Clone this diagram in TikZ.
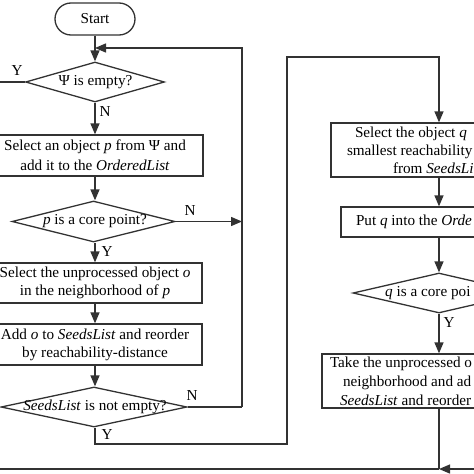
\documentclass[tikz,border=0pt]{standalone}
\usepackage{fontspec}
\setmainfont{Liberation Serif}
\usetikzlibrary{arrows.meta,shapes.geometric}
\definecolor{lc}{RGB}{50,50,50}
\newcommand{\myfs}[1]{\fontsize{15.2}{#1}\selectfont}
\begin{document}
\begin{tikzpicture}[x=1pt,y=-1pt,
  line/.style={draw=lc, line width=1.3pt},
  arr/.style={line, -{Triangle[length=11pt,width=9pt]}},
  box/.style={draw=lc, line width=1.3pt, rectangle, inner sep=0pt, align=center, font=\myfs{18}},
  dia/.style={draw=lc, line width=1.3pt, diamond, inner sep=0pt},
  txt/.style={inner sep=0pt, font=\myfs{18}},
  lbl/.style={inner sep=0pt, font=\myfs{18}}]
\useasboundingbox (0,0) rectangle (474,474);
\clip (0,0) rectangle (474,474);
% left column
\node[box, rounded corners=16pt, minimum width=80pt, minimum height=32pt] (start) at (95,19) {Start};
\node[dia, minimum width=139pt, minimum height=40pt] (d1) at (95,82) {};
\node[txt] (d1t) at (95.5,82) {Ψ is empty?};
\node[box, font=\myfs{20}, minimum width=216pt, minimum height=41pt] (b1) at (95,155.5)
  {Select an object \textit{p} from Ψ and\\add it to the \textit{OrderedList}};
\node[dia, minimum width=163pt, minimum height=41pt] (d2) at (93.5,221.5) {};
\node[txt] (d2t) at (95,221.5) {\textit{p} is a core point?};
\node[box, minimum width=214pt, minimum height=40pt] (b2) at (95,283)
  {Select the unprocessed object \textit{o}\\in the neighborhood of \textit{p}};
\node[box, minimum width=214pt, minimum height=41pt] (b3) at (95,344.5)
  {Add \textit{o} to \textit{SeedsList} and reorder\\by reachability-distance};
\node[dia, minimum width=186pt, minimum height=40pt] (d3) at (94,407) {};
\node[txt] (d3t) at (95,407) {\textit{SeedsList} is not empty?};
% right column
\node[box, minimum width=216pt, minimum height=54pt] (sq) at (439,150)
  {\makebox[168pt][l]{Select the object \textit{q}}\\\makebox[184pt][l]{smallest reachability}\\\makebox[92pt][l]{from \textit{SeedsLi}}};
\node[box, minimum width=196pt, minimum height=30pt] (pq) at (439,222)
  {\makebox[166pt][l]{Put \textit{q} into the \textit{Orde}}};
\node[dia, minimum width=172pt, minimum height=40pt] (d4) at (439,293) {};
\node[txt, anchor=west] (d4t) at (385,293) {\textit{q} is a core poi};
\node[box, font=\myfs{19}, minimum width=234pt, minimum height=54pt] (tk) at (439,381)
  {\makebox[218pt][l]{Take the unprocessed o}\\\makebox[192pt][l]{neighborhood and ad}\\\makebox[198pt][l]{\textit{SeedsList} and reorder}};
% junctions
\coordinate (jN) at (242,407);
\coordinate (jTop) at (95,48);
\coordinate (yL) at (-5,82);
\coordinate (yturn) at (287,444);
\coordinate (rtop) at (287,57);
\coordinate (bj) at (439,469);
\coordinate (bR) at (480,469);
\coordinate (bL) at (-5,469);
% connectors
\draw[arr] (start) -- (d1.north);
\draw[arr] (jN) |- (jTop);
\draw[line] (d1.west) -- (yL);
\draw[arr] (d1.south) -- (b1.north);
\draw[arr] (b1.south) -- (b1.south |- d2.north);
\draw[arr] (d2.east) -- (d2.east -| jN);
\draw[arr] (b1.south |- d2.south) -- (b2.north);
\draw[arr] (b2.south) -- (b3.north);
\draw[arr] (b3.south) -- (b3.south |- d3.north);
\draw[line] (d3.east) -- (jN);
\draw[arr] (b3.south |- d3.south) |- (yturn) -- (rtop) -| (sq.north);
\draw[arr] (sq.south) -- (pq.north);
\draw[arr] (pq.south) -- (d4.north);
\draw[arr] (d4.south) -- (tk.north);
\draw[line] (tk.south) -- (bj);
\draw[arr] (bR) -- (bj);
\draw[line] (bj) -- (bL);
% labels
\node[lbl] (lY1) at (17,71) {Y};
\node[lbl] (lN1) at (105,112) {N};
\node[lbl] (lN2) at (190,211) {N};
\node[lbl] (lY2) at (107,252) {Y};
\node[lbl] (lN3) at (192,396) {N};
\node[lbl] (lY3) at (107,435) {Y};
\node[lbl] (lY4) at (449,323) {Y};
\end{tikzpicture}
\end{document}
